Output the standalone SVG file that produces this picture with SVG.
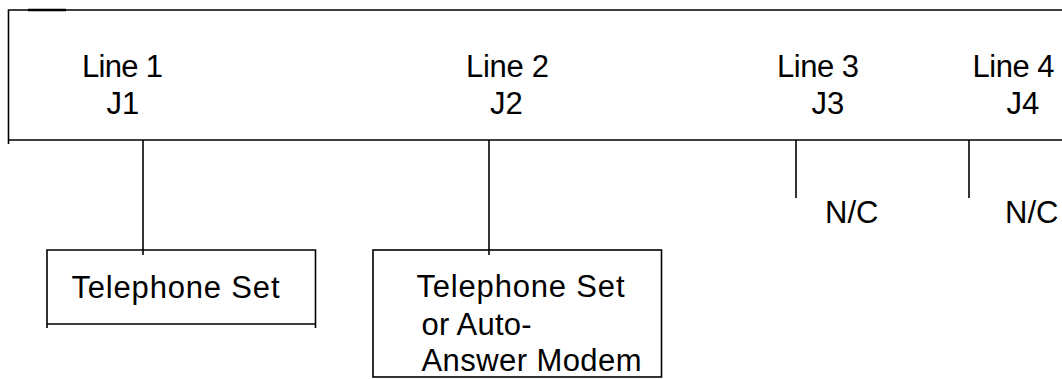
<svg xmlns="http://www.w3.org/2000/svg" width="1062" height="379" viewBox="0 0 1062 379">
<style>
.ln{stroke:#000;stroke-width:1.6;fill:none}
.t{font-family:"Liberation Sans",Arial,sans-serif;font-size:31px;fill:#000}
</style>
<rect width="1062" height="379" fill="#fff"/>
<g id="panel">
<path class="ln" d="M1062,10 H8.5 V144 M8.5,140 H1062"/>
<path d="M28,10 H66" stroke="#000" stroke-width="2.4"/>
<text class="t" x="82" y="77" textLength="81">Line 1</text>
<text class="t" x="106.5" y="114">J1</text>
<text class="t" x="466" y="77" textLength="83">Line 2</text>
<text class="t" x="490" y="114">J2</text>
<text class="t" x="777" y="77" textLength="82">Line 3</text>
<text class="t" x="811.5" y="114">J3</text>
<text class="t" x="972.5" y="77" textLength="82">Line 4</text>
<text class="t" x="1006.5" y="114">J4</text>
</g>
<g id="connectors">
<path class="ln" d="M143,140 V255"/>
<path class="ln" d="M489,140 V255"/>
<path class="ln" d="M796,140 V198"/>
<path class="ln" d="M969,140 V198"/>
</g>
<g id="nc3"><text class="t" x="825" y="223">N/C</text></g>
<g id="nc4"><text class="t" x="1005" y="223">N/C</text></g>
<g id="box1">
<path class="ln" d="M47,328 V250 H315.5 V328 M47,324 H315.5"/>
<text class="t" x="71.5" y="298" textLength="208">Telephone Set</text>
</g>
<g id="box2">
<rect class="ln" x="373" y="250" width="288.5" height="127"/>
<text class="t" x="416.5" y="297" textLength="208">Telephone Set</text>
<text class="t" x="421.5" y="335" textLength="110">or Auto-</text>
<text class="t" x="421.5" y="371" textLength="220">Answer Modem</text>
</g>
</svg>
